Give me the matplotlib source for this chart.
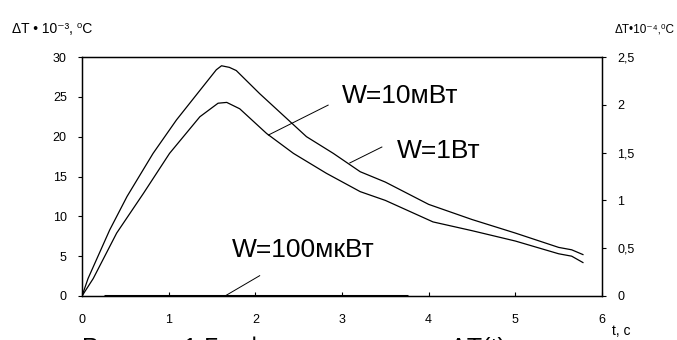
import matplotlib.pyplot as plt

# time, s
t_1w = [0, 0.07, 0.32, 0.52, 0.82, 1.09, 1.36, 1.55, 1.61, 1.70, 1.78, 2.05, 2.28,
        2.59, 2.90, 3.21, 3.50, 4.00, 4.50, 5.00, 5.50, 5.65, 5.78]
dT_1w = [0, 2.2, 8.3, 12.5, 17.9, 22.1, 25.8, 28.4, 28.9, 28.7, 28.3, 25.4, 23.1,
         20.0, 17.9, 15.6, 14.3, 11.5, 9.6, 7.9, 6.1, 5.8, 5.2]

t_10mw = [0, 0.13, 0.40, 0.71, 1.01, 1.36, 1.57, 1.67, 1.82, 2.13, 2.44, 2.82,
          3.21, 3.50, 4.05, 4.50, 5.00, 5.50, 5.65, 5.78]
dT_10mw = [0, 2.2, 7.9, 12.9, 17.9, 22.5, 24.2, 24.3, 23.5, 20.4, 17.9, 15.4,
           13.1, 12.0, 9.3, 8.2, 6.9, 5.3, 5.0, 4.2]

t_100uw = [0.25, 3.76]
dT_100uw = [0, 0]

left_ticks = [0, 5, 10, 15, 20, 25, 30]
right_ticks = [0, 0.5, 1, 1.5, 2, 2.5]
right_labels = ['0', '0,5', '1', '1,5', '2', '2,5']
x_ticks = [0, 1, 2, 3, 4, 5, 6]

plt.rcParams['font.family'] = ['Liberation Sans', 'DejaVu Sans']

fig = plt.figure(figsize=(6.77, 3.40), dpi=100)
ax = fig.add_axes([82 / 677, 1 - 296 / 340, 520 / 677, 239 / 340])

ax.plot(t_1w, dT_1w, color='black', lw=0.9)
ax.plot(t_10mw, dT_10mw, color='black', lw=0.9)
ax.plot(t_100uw, dT_100uw, color='black', lw=2.2, solid_capstyle='butt', zorder=5)

# pointer lines to the labels
ax.plot([2.84, 2.15], [23.96, 20.2], color='black', lw=0.7)
ax.plot([3.46, 3.09], [18.7, 16.7], color='black', lw=0.7)
ax.plot([1.65, 2.05], [0, 2.55], color='black', lw=0.7)

ax.text(3.0, 24.2, 'W=10мВт', fontsize=19)
ax.text(3.63, 17.3, 'W=1Вт', fontsize=19)
ax.text(1.73, 4.9, 'W=100мкВт', fontsize=19)

ax.set_xlim(0, 6)
ax.set_ylim(0, 30)
ax.set_xticks(x_ticks)
ax.set_yticks(left_ticks)
ax.tick_params(axis='x', direction='in', length=3, pad=13, labelsize=9)
ax.tick_params(axis='y', direction='out', length=3, pad=8, labelsize=9)
for s in ax.spines.values():
    s.set_linewidth(1.0)

ax2 = ax.twinx()
ax2.set_ylim(0, 2.5)
ax2.set_yticks(right_ticks)
ax2.set_yticklabels(right_labels)
ax2.tick_params(axis='y', direction='out', length=3, pad=8, labelsize=9)

fig.text(12 / 677, 1 - 33 / 340, 'ΔT • 10⁻³, ⁰C', fontsize=10)
fig.text(615 / 677, 1 - 33 / 340, 'ΔT•10⁻⁴,⁰C', fontsize=8.5)
fig.text(612 / 677, 1 - 335 / 340, 't, c', fontsize=10)

# caption, only the top of it shows at the bottom edge
fig.text(82 / 677, -16 / 340, 'Рисунок 1 График зависимости ΔT(t)', fontsize=18)

fig.savefig('out.png', dpi=100)
